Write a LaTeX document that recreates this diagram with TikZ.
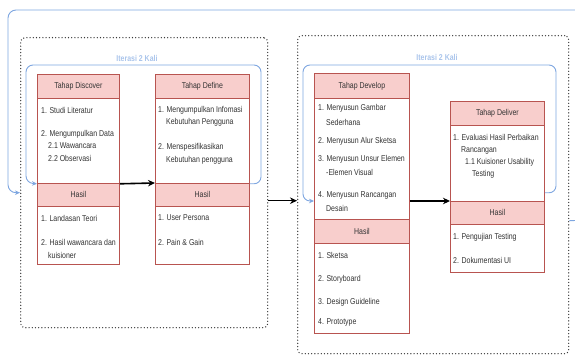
\documentclass[tikz,border=0pt]{standalone}
\usepackage{fontspec}
\setmainfont{Liberation Sans}[FakeStretch=0.82]
\usetikzlibrary{arrows.meta,positioning,calc}
\definecolor{DioRed}{HTML}{B85450}
\definecolor{DioPink}{HTML}{F8CECC}
\definecolor{LoopBlue}{HTML}{7EA6E0}
\definecolor{LabelBlue}{HTML}{A9C4EB}
\definecolor{InkGray}{HTML}{333333}
\definecolor{DotGray}{HTML}{3A3A3A}

\begin{document}
\begin{tikzpicture}[
  x=1pt, y=-1pt,
  font=\fontsize{8.5}{10}\selectfont,
  phase/.style={
    draw=DotGray,
    line width=1.4pt,
    line cap=round,
    dash pattern=on 0pt off 3.2pt,
    rounded corners=4pt,
    anchor=north west,
    inner sep=0pt
  },
  stagehead/.style={draw=DioRed,fill=DioPink,line width=0.8pt,
    anchor=north west,inner sep=0pt,text=InkGray},
  stagebody/.style={draw=DioRed,fill=white,line width=0.8pt,
    anchor=north west,inner sep=0pt},
  item/.style={anchor=west,inner sep=0pt,text=InkGray},
  flow/.style={-{Stealth[length=7pt,width=6.5pt]},line width=1.6pt,black},
  iterloop/.style={draw=LoopBlue,line width=0.9pt,rounded corners=7pt,
    -{Stealth[length=5pt,width=4.5pt]}},
  iterlabel/.style={font=\bfseries\fontsize{8.5}{9}\selectfont,text=LabelBlue}
]
\useasboundingbox (0,0) rectangle (575,355);

% Phase 1: discover and define.
\node[phase,minimum width=247pt,minimum height=290pt] (phaseA) at (20,37) {};
\node[iterlabel] (iterA) at (137,58) {Iterasi 2 Kali};

\node[stagebody,minimum width=82pt,minimum height=85pt] (discbody) at (37,98) {};
\node[stagehead,minimum width=82pt,minimum height=24pt] (dischead) at (37,74) {Tahap Discover};
\node[stagebody,minimum width=82pt,minimum height=58pt] (dischasilbody) at (37,206) {};
\node[stagehead,minimum width=82pt,minimum height=23pt] (dischasil) at (37,183) {Hasil};

\foreach \x/\y/\t [count=\i] in {
  41/110/1. Studi Literatur,
  41/134/2. Mengumpulkan Data,
  48/146/2.1 Wawancara,
  48/158/2.2 Observasi,
  41/218/1. Landasan Teori,
  41/242/2. Hasil wawancara dan,
  48/255/kuisioner}
  \node[item] (disc\i) at (\x,\y) {\t};

\node[stagebody,minimum width=94pt,minimum height=85pt] (defbody) at (155,98) {};
\node[stagehead,minimum width=94pt,minimum height=24pt] (defhead) at (155,74) {Tahap Define};
\node[stagebody,minimum width=94pt,minimum height=58pt] (defhasilbody) at (155,206) {};
\node[stagehead,minimum width=94pt,minimum height=23pt] (defhasil) at (155,183) {Hasil};

\foreach \x/\y/\t [count=\i] in {
  158/110/1. Mengumpulkan Infomasi,
  166/122/Kebutuhan Pengguna,
  158/147/2. Menspesifikasikan,
  166/160/Kebutuhan pengguna,
  158/218/1. User Persona,
  158/242/2. Pain \& Gain}
  \node[item] (def\i) at (\x,\y) {\t};

\draw[flow] (discbody.south east) -- (defhasil.north west);
\draw[iterloop] (defbody.south east) -| (261,65) -| (26,183) -- (discbody.south west);

% Phase 2: develop and deliver.
\node[phase,minimum width=271pt,minimum height=318pt] (phaseB) at (297,35) {};
\node[iterlabel] (iterB) at (437,57) {Iterasi 2 Kali};

\node[stagebody,minimum width=95pt,minimum height=121pt] (devbody) at (314,98) {};
\node[stagehead,minimum width=95pt,minimum height=25pt] (devhead) at (314,73) {Tahap Develop};
\node[stagebody,minimum width=95pt,minimum height=90pt] (devhasilbody) at (314,243) {};
\node[stagehead,minimum width=95pt,minimum height=24pt] (devhasil) at (314,219) {Hasil};

\foreach \x/\y/\t [count=\i] in {
  318/108/1. Menyusun Gambar,
  326/122/Sederhana,
  318/141/2. Menyusun Alur Sketsa,
  318/159/3. Menyusun Unsur Elemen,
  326/172/-Elemen Visual,
  318/195/4. Menyusun Rancangan,
  326/208/Desain,
  318/255/1. Sketsa,
  318/279/2. Storyboard,
  318/302/3. Design Guideline,
  318/322/4. Prototype}
  \node[item] (dev\i) at (\x,\y) {\t};

\node[stagebody,minimum width=94pt,minimum height=76pt] (delivbody) at (450,125) {};
\node[stagehead,minimum width=94pt,minimum height=24pt] (delivhead) at (450,101) {Tahap Deliver};
\node[stagebody,minimum width=94pt,minimum height=48pt] (delivhasilbody) at (450,224) {};
\node[stagehead,minimum width=94pt,minimum height=23pt] (delivhasil) at (450,201) {Hasil};

\foreach \x/\y/\t [count=\i] in {
  453/137/1. Evaluasi Hasil Perbaikan,
  461/150/Rancangan,
  465/162/1.1 Kuisioner Usability,
  472/174/Testing,
  453/237/1. Pengujian Testing,
  453/260/2. Dokumentasi UI}
  \node[item] (deliv\i) at (\x,\y) {\t};

\coordinate (devin) at (devbody.west |- delivhasil.north);
\draw[flow] (delivhasil.north west -| devbody.east) -- (delivhasil.north west);
\draw[iterloop] ([yshift=9pt]delivbody.south east) -| (556,65) -| (303,201) -- (devin);

% Hand-off between phases and the outer loop.
\coordinate (handoff) at ([yshift=-18pt]phaseA.east);
\draw[flow] (handoff) -- (handoff -| phaseB.west);

\coordinate (outerout) at ([yshift=-26pt]phaseB.east);
\coordinate (outerin) at ([yshift=-10pt]phaseA.west);
\draw[iterloop,rounded corners=8pt] (outerout) -- (590,220) |- (8,10) |- (outerin);
\end{tikzpicture}
\end{document}
